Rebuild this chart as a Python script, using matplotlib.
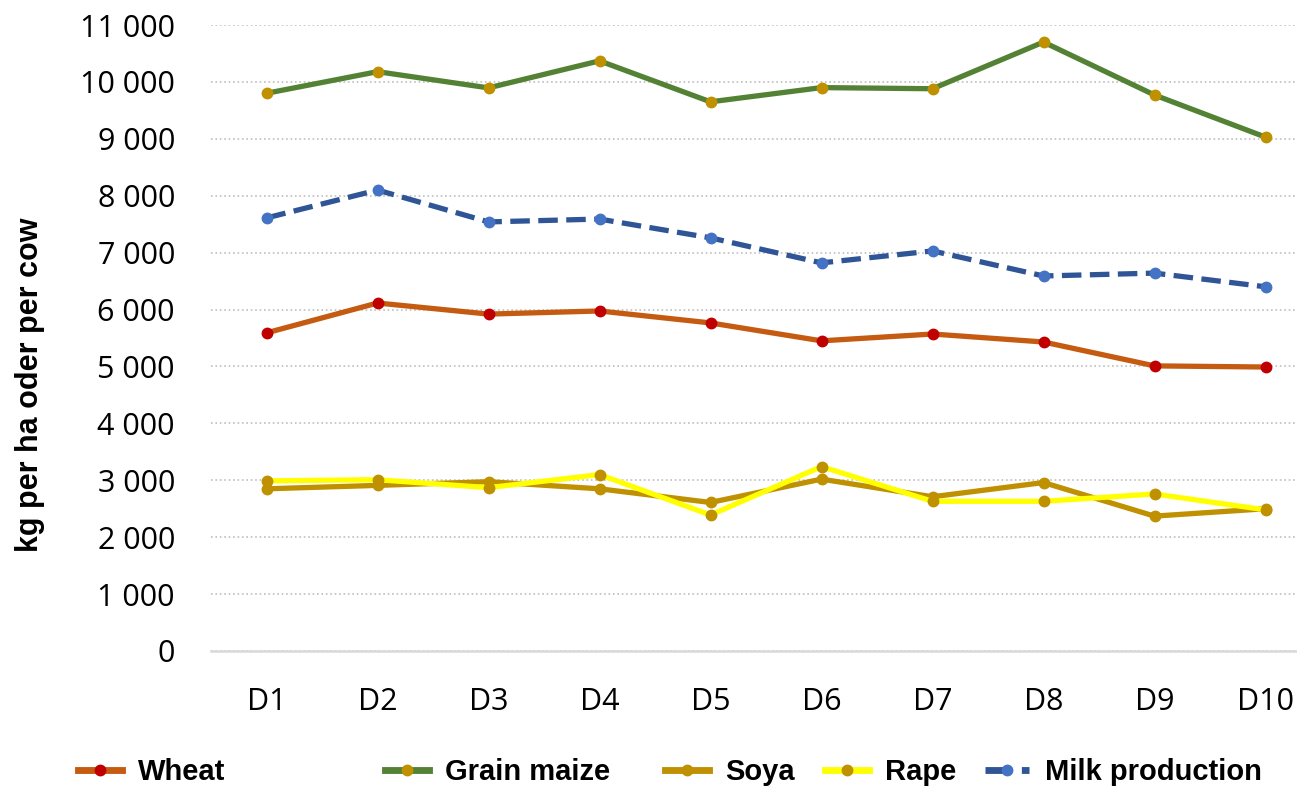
import numpy as np
import matplotlib
matplotlib.use('Agg')
import matplotlib.pyplot as plt
from matplotlib.lines import Line2D
from matplotlib.ticker import FuncFormatter

days = ['D1', 'D2', 'D3', 'D4', 'D5', 'D6', 'D7', 'D8', 'D9', 'D10']
wheat = [5590, 6115, 5920, 5975, 5765, 5450, 5570, 5430, 5010, 4990]
maize = [9800, 10180, 9895, 10370, 9650, 9900, 9880, 10700, 9770, 9030]
soya = [2850, 2910, 2975, 2850, 2610, 3020, 2710, 2960, 2370, 2500]
rape = [2990, 3010, 2870, 3100, 2390, 3240, 2630, 2630, 2760, 2480]
milk = [7610, 8100, 7540, 7590, 7260, 6820, 7030, 6590, 6640, 6400]

W, H = 1297, 788
fig = plt.figure(figsize=(W/100, H/100), dpi=100)
ax = fig.add_axes([211/W, (H-651)/H, (1321-211)/W, (651-25)/H])

x = np.arange(len(days))
lw = 3.8
ms = 7.5
# (label, values, line colour, marker colour, linestyle)
series = [
    ('Wheat', wheat, '#C55A11', '#C00000', '-'),
    ('Grain maize', maize, '#548235', '#BF9000', '-'),
    ('Soya', soya, '#BF9000', '#BF9000', '-'),
    ('Rape', rape, '#FFFF00', '#BF9000', '-'),
    ('Milk production', milk, '#2F5597', '#4472C4', '--'),
]
for lab, vals, c, mc, ls in series:
    ax.plot(x, vals, color=c, lw=lw, ls=ls, marker='o', ms=ms,
            mfc=mc, mec=mc, label=lab, zorder=3)

ax.set_xlim(-0.5, 9.5)
ax.set_ylim(0, 11000)
ax.set_yticks(np.arange(0, 11001, 1000))
ax.yaxis.set_major_formatter(FuncFormatter(lambda v, p: '{:,.0f}'.format(v).replace(',', ' ')))
ax.set_xticks(x)
ax.set_xticklabels(days)
ax.grid(axis='y', ls=':', color='#BFBFBF', lw=1.2)
ax.set_axisbelow(True)
for s in ['top', 'right', 'left']:
    ax.spines[s].set_visible(False)
ax.spines['bottom'].set_color('#D9D9D9')
ax.spines['bottom'].set_linewidth(1.8)
ax.tick_params(length=0)
ax.tick_params(axis='y', pad=26)
ax.tick_params(axis='x', pad=26)
for t in ax.get_xticklabels() + ax.get_yticklabels():
    t.set_fontfamily('Open Sans')
    t.set_fontsize(22)
    t.set_color('#000000')

fig.text(30/W, (H-385)/H, 'kg per ha oder per cow', rotation=90, ha='center', va='center',
         fontsize=22, fontweight='bold', family='Liberation Sans')

# legend entries placed one by one, spacing in the original is uneven
leg_x = [78, 385, 665, 825, 985]
for (lab, vals, c, mc, ls), lx in zip(series, leg_x):
    h = Line2D([], [], color=c, lw=lw*1.3, ls=ls, marker='o', ms=ms, mfc=mc, mec=mc)
    lg = fig.legend([h], [lab], loc='center left', bbox_to_anchor=(lx/W, (H-772)/H),
                    frameon=False, borderpad=0, borderaxespad=0, handlelength=1.5,
                    handletextpad=0.55, prop={'family': 'Liberation Sans', 'weight': 'bold', 'size': 21})

fig.savefig('out.png', dpi=100)
